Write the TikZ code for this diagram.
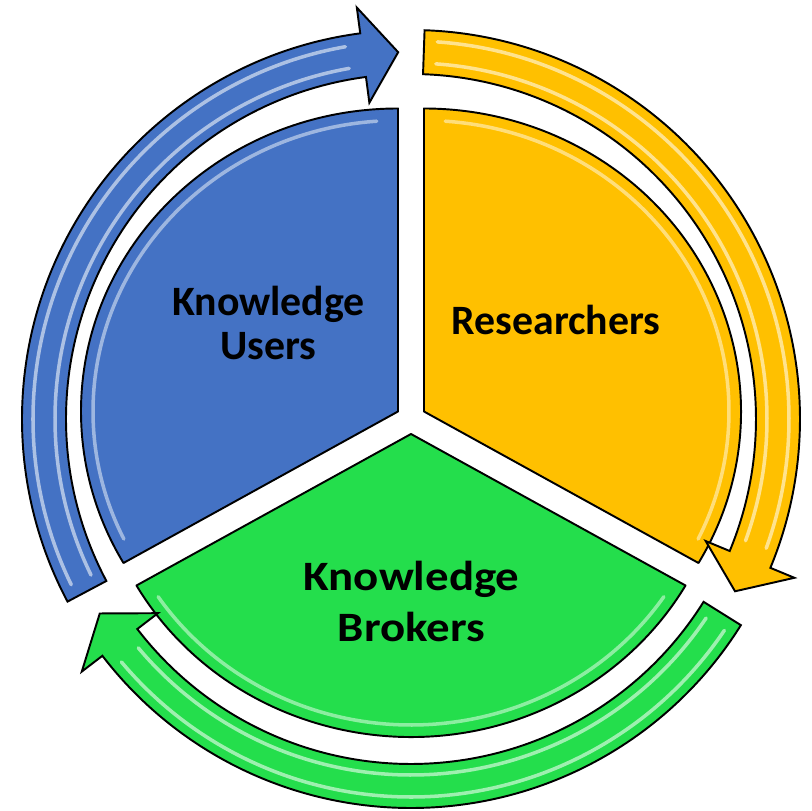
\documentclass[tikz,border=0pt]{standalone}
\usepackage{fontspec}
\setsansfont{Carlito}
\definecolor{kuBlue}{RGB}{68,114,196}
\definecolor{reYellow}{RGB}{255,192,0}
\definecolor{kbGreen}{RGB}{36,222,76}
\tikzset{
  pie_s/.style = {draw=black, line width=1.1pt, line join=round},% one part of the pie
  ring_a/.style = {draw=black, line width=1.1pt, line join=miter},% arrow round the pie
  shine/.style = {line width=2pt, opacity=0.8, line cap=round},% glossy stripe
  label_t/.style = {align=center, inner sep=0pt, text centered,
    font=\sffamily\bfseries\fontsize{23.8}{25.5}\selectfont}
}

\begin{document}
\begin{tikzpicture}[x=0.02cm, y=0.02cm]
\useasboundingbox (-411,-392) rectangle (401,419);
% pie, each part pushed out a little
\foreach \a/\col in {90/kuBlue, -30/reYellow, 210/kbGreen}{
  \begin{scope}[shift={(\a+60:15)}]
    \draw[pie_s, fill=\col] (0,0) -- (\a:317 and 303)
      arc[start angle=\a, end angle=\a+120, x radius=317, y radius=303] -- cycle;
    \draw[shine, draw=\col!40!white] (\a+4:305 and 291)
      arc[start angle=\a+4, end angle=\a+116, x radius=305, y radius=291];
  \end{scope}
}
% arrows round the pie
\foreach \g/\col in {210/kuBlue, 90/reYellow, -30/kbGreen}{
  \draw[ring_a, fill=\col] (\g-2:389)
    arc[start angle=\g-2, end angle=\g-112.5, radius=389]
    -- (\g-112.5:415) -- (\g-118:367) -- (\g-112.5:319) -- (\g-112.5:345)
    arc[start angle=\g-112.5, end angle=\g-2, radius=345] -- cycle;
  \draw[shine, draw=\col!30!white] (\g-4:378)
    arc[start angle=\g-4, end angle=\g-110, radius=378];
  \draw[shine, draw=\col!30!white] (\g-4:356)
    arc[start angle=\g-4, end angle=\g-110, radius=356];
}
\node[label_t] (users) at (-142.5,96) {Knowledge\\Users};
\node[label_t, anchor=base] (researchers) at (145,84) {Researchers};
\node[label_t, font=\sffamily\bfseries\fontsize{23.8}{29.5}\selectfont,
  xscale=1.12, transform shape] (brokers) at (0.5,-182.5) {Knowledge\\Brokers};
\end{tikzpicture}
\end{document}
